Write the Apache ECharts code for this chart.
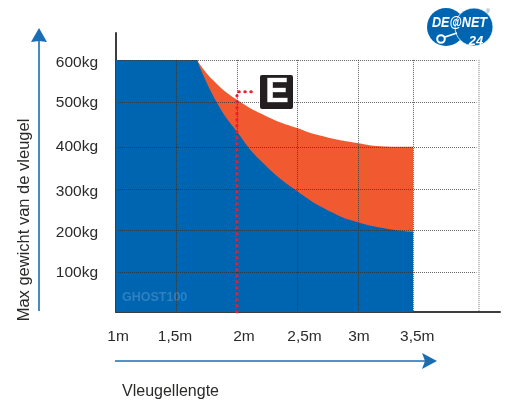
<!DOCTYPE html>
<html>
<head>
<meta charset="utf-8">
<style>
  html, body { margin: 0; padding: 0; background: #fff; }
  #chart { width: 508px; height: 404px; }
</style>
<script src="https://cdn.jsdelivr.net/npm/echarts@6/dist/echarts.min.js"></script>
</head>
<body>
<div id="chart"></div>
<script>
// values (the original axes are not quite even)
const flatLengths = [1, 1.675];
const flatWeight = [600, 600];
const maxLengths = [1.669, 1.802, 2, 2.273, 2.496, 2.686, 2.992, 3.223, 3.455];
const maxWeight = [600, 552, 505, 462, 438, 420, 402, 394, 393];
const safeLengths = [1.669, 1.835, 2, 2.19, 2.496, 2.793, 2.992, 3.24, 3.455];
const safeWeight = [600, 498, 429, 362, 288, 236, 214, 198, 190];

const yGridValues = [95, 195, 293, 393, 500, 600];
const yLabelValues = [93, 188, 286, 393, 498, 593];
const yTickLabels = ['100kg', '200kg', '300kg', '400kg', '500kg', '600kg'];
const xGridValues = [1.5, 2, 2.5, 3, 3.455];
const xLastGridValue = 4;
const xLabelValues = [1.017, 1.488, 2.058, 2.558, 3.008, 3.49];
const xTickLabels = ['1m', '1,5m', '2m', '2,5m', '3m', '3,5m'];

const markerX = [2, 2, 2.155];
const markerY = [0, 524, 524];

const FONT = '"Liberation Sans", Arial, sans-serif';
const BLUE = '#0065b1';
const RED = '#f15a30';
const ARROW = '#1a6db3';
const TEXT = '#2b2a29';

const chart = echarts.init(document.getElementById('chart'));

const gridStyle = { color: '#2f3133', width: 1, type: [1, 1], opacity: 0.75 };

const gridLines = [];
yGridValues.forEach(function (v) {
  gridLines.push([{ coord: [1.017, v] }, { coord: [3.98, v] }]);
});
xGridValues.forEach(function (v) {
  gridLines.push([{ coord: [v, 600] }, { coord: [v, 0] }]);
});
gridLines.push([
  { coord: [xLastGridValue, 600], lineStyle: { color: '#8a8a8a', width: 1.5, type: [1, 1] } },
  { coord: [xLastGridValue, 0] },
]);

function pairs(xs, ys) {
  return xs.map(function (x, i) { return [x, ys[i]]; });
}

function areaSeries(xs, ys, color, z, smooth) {
  return {
    type: 'line',
    data: pairs(xs, ys),
    smooth: smooth,
    showSymbol: false,
    silent: true,
    lineStyle: { width: 0 },
    areaStyle: { color: color, opacity: 1 },
    z: z,
  };
}

const option = {
  animation: false,
  backgroundColor: '#ffffff',
  grid: { left: 116, right: 8, top: 33, bottom: 92 },
  xAxis: {
    type: 'value',
    min: 1,
    max: 4.174,
    splitLine: { show: false },
    axisTick: { show: false },
    axisLine: { show: true, onZero: false, lineStyle: { color: '#3c3d3f', width: 2 } },
    axisLabel: {
      customValues: xLabelValues,
      margin: 17,
      color: TEXT,
      fontFamily: FONT,
      fontSize: 15.5,
      hideOverlap: false,
      formatter: function (v) {
        return xTickLabels[xLabelValues.indexOf(v)];
      },
    },
  },
  yAxis: {
    type: 'value',
    min: 0,
    max: 664,
    splitLine: { show: false },
    axisTick: { show: false },
    axisLine: { show: true, onZero: false, lineStyle: { color: '#3c3d3f', width: 2 } },
    axisLabel: {
      customValues: yLabelValues,
      margin: 18,
      color: TEXT,
      fontFamily: FONT,
      fontSize: 15.5,
      hideOverlap: false,
      formatter: function (v) {
        return yTickLabels[yLabelValues.indexOf(v)];
      },
    },
  },
  series: [
    areaSeries(maxLengths, maxWeight, RED, 2, 0.5),
    areaSeries(safeLengths, safeWeight, BLUE, 3, 0.5),
    areaSeries(flatLengths, flatWeight, BLUE, 3, false),
    {
      // dotted grid sits on top of the areas
      type: 'line',
      data: [],
      silent: true,
      z: 4,
      markLine: {
        silent: true,
        symbol: 'none',
        animation: false,
        label: { show: false },
        lineStyle: gridStyle,
        data: gridLines,
      },
    },
    {
      type: 'line',
      data: pairs(markerX, markerY),
      showSymbol: false,
      silent: true,
      z: 6,
      lineStyle: { color: '#ed1c2e', width: 3, type: [0.5, 5.5], cap: 'round' },
    },
  ],
  graphic: [
    // y arrow
    { type: 'line', shape: { x1: 39, y1: 311, x2: 39, y2: 38 }, style: { stroke: ARROW, lineWidth: 1.6 } },
    { type: 'polygon', shape: { points: [[39, 28], [47, 42], [39, 41], [31, 42]] }, style: { fill: ARROW } },
    // x arrow
    { type: 'line', shape: { x1: 115, y1: 361, x2: 428, y2: 361 }, style: { stroke: ARROW, lineWidth: 1.6 } },
    { type: 'polygon', shape: { points: [[437, 361], [422, 353], [425, 361], [422, 369]] }, style: { fill: ARROW } },
    // axis titles
    {
      type: 'text', x: 24, y: 220, rotation: Math.PI / 2,
      style: { text: 'Max gewicht van de vleugel', fill: TEXT, font: '16.5px ' + FONT, align: 'center', verticalAlign: 'middle' },
    },
    {
      type: 'text', x: 122, y: 392,
      style: { text: 'Vleugellengte', fill: TEXT, font: '16px ' + FONT, align: 'left', verticalAlign: 'middle' },
    },
    // watermark
    {
      type: 'text', x: 122, y: 298, z: 5,
      style: { text: 'GHOST100', fill: '#2f80bf', font: 'bold 12.5px ' + FONT, align: 'left', verticalAlign: 'middle' },
    },
    // E badge
    { type: 'rect', z: 7, shape: { x: 260, y: 75, width: 33, height: 34, r: 2 }, style: { fill: '#231f20' } },
    {
      type: 'text', z: 8, x: 277, y: 92,
      style: { text: 'E', fill: '#ffffff', stroke: '#a8a8a8', lineWidth: 0.6, font: 'bold 35px ' + FONT, align: 'center', verticalAlign: 'middle' },
    },
    // logo
    { type: 'circle', shape: { cx: 446, cy: 27, r: 19 }, style: { fill: BLUE } },
    { type: 'circle', shape: { cx: 474, cy: 27, r: 19 }, style: { fill: BLUE, stroke: '#ffffff', lineWidth: 0.8 } },
    {
      type: 'text', x: 432, y: 23, scaleX: 0.84,
      style: { text: 'DE@NET', fill: '#ffffff', font: 'italic bold 15px ' + FONT, align: 'left', verticalAlign: 'middle' },
    },
    {
      type: 'text', x: 476, y: 41,
      style: { text: '24', fill: '#ffffff', font: 'italic bold 13px ' + FONT, align: 'center', verticalAlign: 'middle' },
    },
    { type: 'circle', shape: { cx: 441, cy: 39, r: 3.8 }, style: { fill: 'none', stroke: '#ffffff', lineWidth: 2 } },
    { type: 'line', shape: { x1: 445, y1: 37, x2: 457, y2: 33 }, style: { stroke: '#ffffff', lineWidth: 1.8 } },
    {
      type: 'text', x: 488, y: 11,
      style: { text: '®', fill: '#5d87b8', font: '6px ' + FONT, align: 'center', verticalAlign: 'middle' },
    },
  ],
};

chart.setOption(option);
</script>
</body>
</html>
